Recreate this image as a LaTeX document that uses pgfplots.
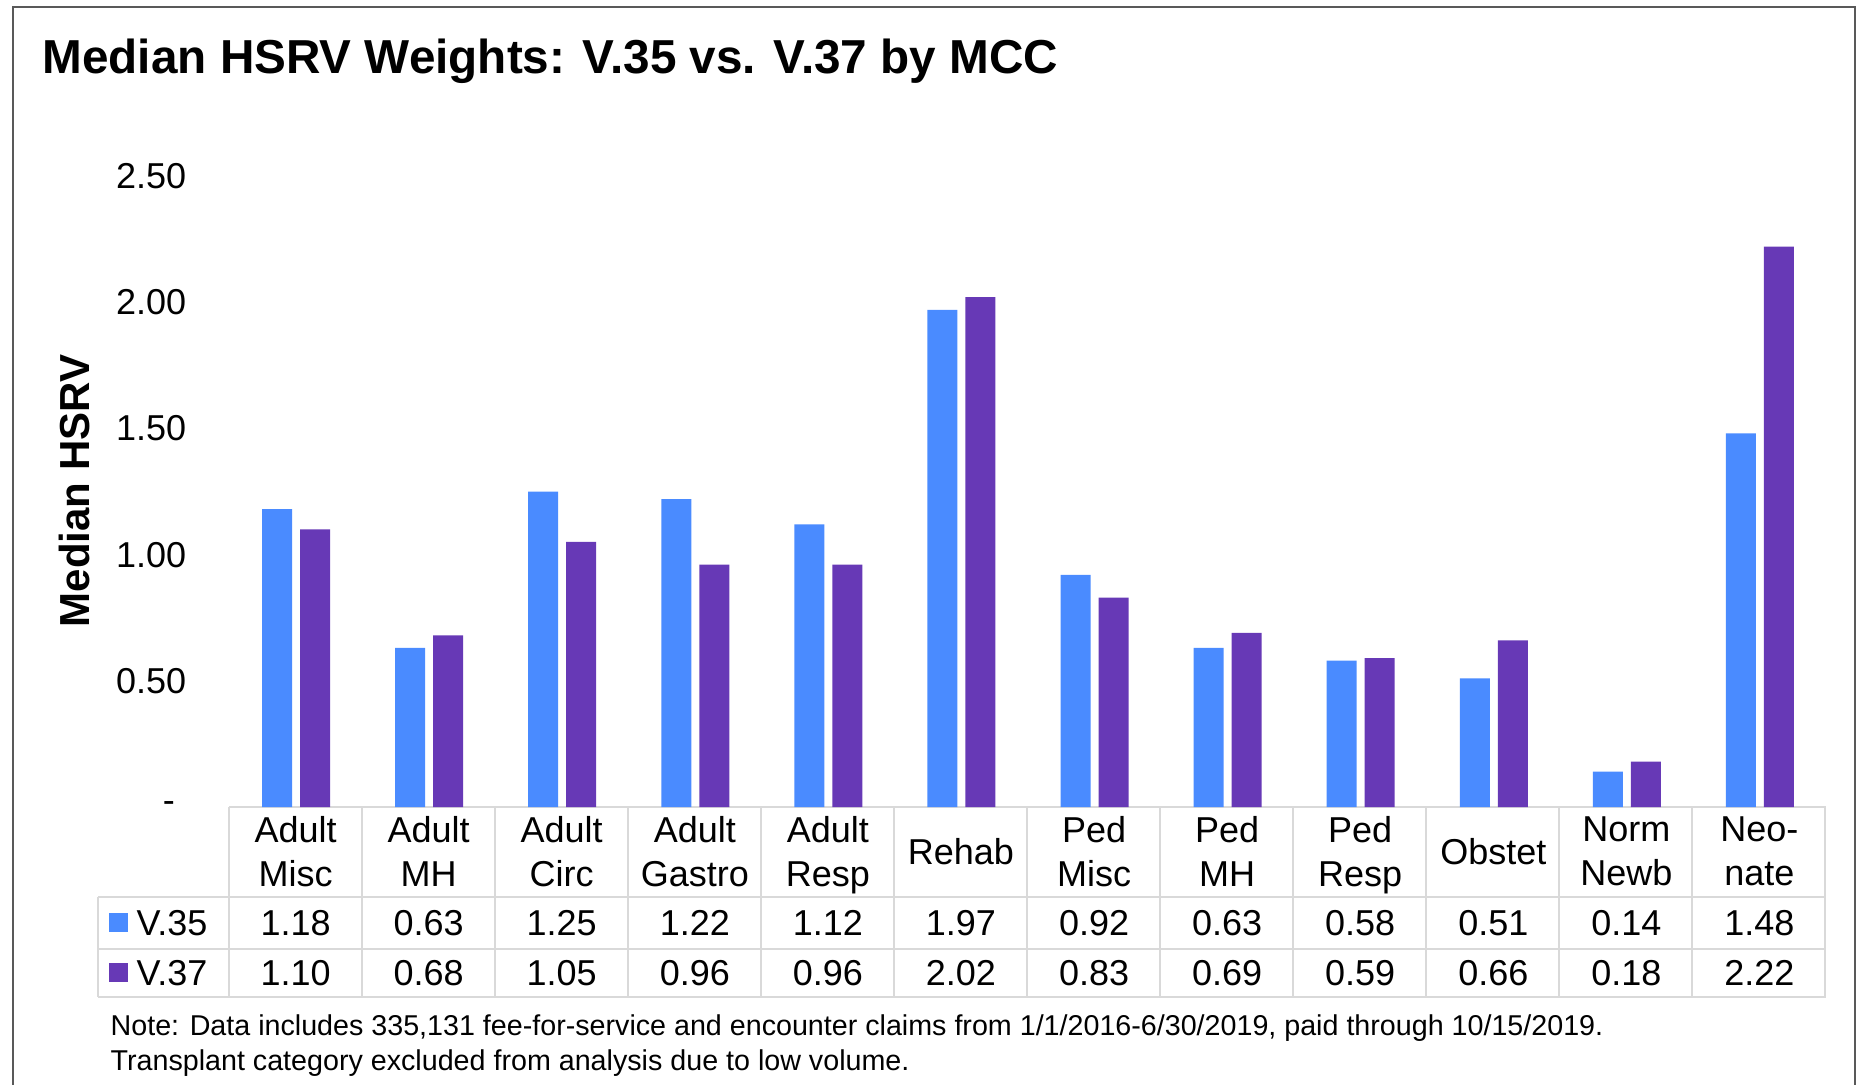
\documentclass[border=0pt]{standalone}
\usepackage{pgfplots}
\pgfplotsset{compat=1.18}
\usepackage{pgfplotstable}
\usepackage{fontspec}
\setmainfont{Liberation Sans}
\definecolor{cA}{RGB}{74,139,255}
\definecolor{cB}{RGB}{103,57,182}
\definecolor{gridc}{RGB}{217,217,217}
\definecolor{framec}{RGB}{89,89,89}

\pgfplotstableread{
x v35 v37
0 1.18 1.10
1 0.63 0.68
2 1.25 1.05
3 1.22 0.96
4 1.12 0.96
5 1.97 2.02
6 0.92 0.83
7 0.63 0.69
8 0.58 0.59
9 0.51 0.66
10 0.14 0.18
11 1.48 2.22
}\data

\newcommand{\tabfont}{\fontsize{10.8pt}{13.2pt}\selectfont}
\newcommand{\zerolab}{\makebox[2.1em][l]{\hspace{1.45em}\raisebox{-0.23em}{-}}}

\begin{document}
\begin{tikzpicture}[x=0.3pt,y=0.3pt]
\path[use as bounding box] (0,0) rectangle (1862,1084);
\draw[framec, line width=0.6pt] (13,-10) -- (13,1077) -- (1855,1077) -- (1855,-10);
\node[anchor=base west, inner sep=0, font=\fontsize{14.3pt}{17pt}\selectfont\bfseries] at (42,1010) {Median HSRV Weights: V.35 vs. V.37 by MCC};
\node[rotate=90, inner sep=0, font=\fontsize{12.6pt}{15pt}\selectfont\bfseries] at (74,593) {Median HSRV};

\draw[gridc, line width=0.6pt] (229,277) -- (1826,277);
\draw[gridc, line width=0.6pt] (98,187) -- (1826,187);
\draw[gridc, line width=0.6pt] (98,135) -- (1826,135);
\draw[gridc, line width=0.6pt] (98,87) -- (1826,87);
\draw[gridc, line width=0.6pt] (98,187) -- (98,87);
\foreach \k in {0,...,12} \draw[gridc, line width=0.6pt] ({229+133*\k},277) -- ({229+133*\k},87);

\begin{axis}[
  at={(68.7pt,83.1pt)}, anchor=south west,
  scale only axis, width=479.1pt, height=189.3pt,
  xmin=-0.5, xmax=11.5, ymin=0, ymax=2.5,
  clip=false,
  axis line style={draw=none},
  major tick length=0pt,
  ytick={0,0.5,1,1.5,2,2.5},
  yticklabels={\zerolab,0.50,1.00,1.50,2.00,2.50},
  yticklabel style={font=\tabfont, xshift=-9.3pt},
  xtick={0,...,11},
  xticklabels={{Adult\\Misc},{Adult\\MH},{Adult\\Circ},{Adult\\Gastro},{Adult\\Resp},Rehab,{Ped\\Misc},{Ped\\MH},{Ped\\Resp},Obstet,{Norm\\Newb},{Neo-\\nate}},
  xticklabel style={align=center, anchor=center, text depth=0pt, yshift=-13.2pt, font=\tabfont},
]
\addplot[ybar, bar width=9pt, bar shift=-5.55pt, fill=cA, draw=none] table[x=x,y=v35]{\data};
\addplot[ybar, bar width=9pt, bar shift=5.85pt, fill=cB, draw=none] table[x=x,y=v37]{\data};
\addplot[draw=none, mark=none, nodes near coords, point meta=explicit symbolic,
  every node near coord/.append style={anchor=center, font=\tabfont}]
  table[x=x, y expr=-0.4596, meta=v35]{\data};
\addplot[draw=none, mark=none, nodes near coords, point meta=explicit symbolic,
  every node near coord/.append style={anchor=center, font=\tabfont}]
  table[x=x, y expr=-0.6577, meta=v37]{\data};
\end{axis}

\fill[cA] (109,152) rectangle (128,171);
\node[anchor=west, inner sep=0, font=\tabfont] at (136,161) {V.35};
\fill[cB] (109,102) rectangle (128,121);
\node[anchor=west, inner sep=0, font=\tabfont] at (136,111) {V.37};

\node[anchor=base west, inner sep=0, font=\fontsize{8.6pt}{11pt}\selectfont] at (110,49) {Note: Data includes 335,131 fee-for-service and encounter claims from 1/1/2016-6/30/2019, paid through 10/15/2019.};
\node[anchor=base west, inner sep=0, font=\fontsize{8.6pt}{11pt}\selectfont] at (110,14) {Transplant category excluded from analysis due to low volume.};
\end{tikzpicture}
\end{document}
